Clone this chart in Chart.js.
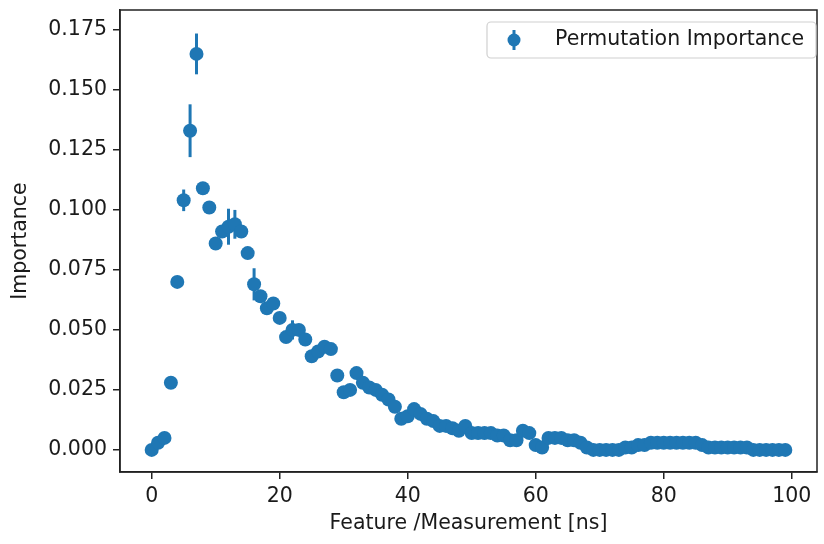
<!DOCTYPE html>
<html><head><meta charset="utf-8">
<script src="https://cdn.jsdelivr.net/npm/chart.js@4.4.1/dist/chart.umd.min.js"></script>
<style>html,body{margin:0;padding:0;background:#fff;}</style>
</head><body>
<canvas id="c" width="824" height="544"></canvas>
<script>
const features = [0,1,2,3,4,5,6,7,8,9,10,11,12,13,14,15,16,17,18,19,20,21,22,23,24,25,26,27,28,29,30,31,32,33,34,35,36,37,38,39,40,41,42,43,44,45,46,47,48,49,50,51,52,53,54,55,56,57,58,59,60,61,62,63,64,65,66,67,68,69,70,71,72,73,74,75,76,77,78,79,80,81,82,83,84,85,86,87,88,89,90,91,92,93,94,95,96,97,98,99];
const importance = [0.000,0.003,0.005,0.028,0.070,0.104,0.133,0.165,0.109,0.101,
  0.086,0.091,0.093,0.094,0.091,0.082,0.069,0.064,0.059,0.061,
  0.055,0.047,0.050,0.050,0.046,0.039,0.041,0.043,0.042,0.031,
  0.024,0.025,0.032,0.028,0.026,0.025,0.023,0.021,0.018,0.013,
  0.014,0.017,0.015,0.013,0.012,0.010,0.010,0.009,0.008,0.010,
  0.007,0.007,0.007,0.007,0.006,0.006,0.004,0.004,0.008,0.007,
  0.002,0.001,0.005,0.005,0.005,0.004,0.004,0.003,0.001,0.000,
  0.000,0.000,0.000,0.000,0.001,0.001,0.002,0.002,0.003,0.003,
  0.003,0.003,0.003,0.003,0.003,0.003,0.002,0.001,0.001,0.001,
  0.001,0.001,0.001,0.001,0.000,0.000,0.000,0.000,0.000,0.000];
const importanceErr = [0.0005,0.0008,0.001,0.001,0.002,0.0045,0.011,0.0085,0.002,0.001,
  0.001,0.002,0.0075,0.006,0.002,0.002,0.0067,0.002,0.002,0.002,
  0.001,0.002,0.004,0.001,0.001,0.001,0.001,0.001,0.001,0.001,
  0.001,0.001,0.001,0.001,0.001,0.001,0.001,0.001,0.001,0.001,
  0.001,0.001,0.001,0.001,0.001,0.001,0.001,0.001,0.001,0.001,
  0.001,0.001,0.001,0.001,0.001,0.001,0.001,0.001,0.001,0.001,
  0.001,0.001,0.001,0.001,0.001,0.001,0.001,0.001,0.001,0.001,
  0.0005,0.0005,0.0005,0.0005,0.0005,0.0005,0.0005,0.0005,0.0005,0.0005,
  0.0005,0.0005,0.0005,0.0005,0.0005,0.0005,0.0005,0.0005,0.0005,0.0005,
  0.0005,0.0005,0.0005,0.0005,0.0005,0.0005,0.0005,0.0005,0.0005,0.0005];
const xTicks = [0,20,40,60,80,100];
const yTicks = [0.000,0.025,0.050,0.075,0.100,0.125,0.150,0.175];
const seriesLabel = 'Permutation Importance';
const xTitle = 'Feature /Measurement [ns]';
const yTitle = 'Importance';

const BLUE = '#1f77b4';
const FONT = 'DejaVu Sans';
const TXT = '#1a1a1a';

const points = features.map((f,i)=>({x:f, y:importance[i]}));

const errPlugin = {
  id:'errbars',
  beforeDatasetsDraw(chart){
    const {ctx, scales:{x,y}} = chart;
    ctx.save();
    ctx.strokeStyle = BLUE; ctx.lineWidth = 3;
    features.forEach((f,i)=>{
      const px = x.getPixelForValue(f);
      ctx.beginPath();
      ctx.moveTo(px, y.getPixelForValue(importance[i]-importanceErr[i]));
      ctx.lineTo(px, y.getPixelForValue(importance[i]+importanceErr[i]));
      ctx.stroke();
    });
    ctx.restore();
  },
  afterDraw(chart){
    const {ctx, chartArea:a} = chart;
    ctx.save();
    ctx.strokeStyle = '#222'; ctx.lineWidth = 1.5;
    ctx.strokeRect(a.left, a.top, a.right-a.left, a.bottom-a.top);
    // legend
    const lx = 487, ly = 22, lw = 329, lh = 36;
    ctx.fillStyle = 'rgba(255,255,255,0.8)';
    ctx.strokeStyle = '#d0d0d0'; ctx.lineWidth = 1.2;
    ctx.beginPath();
    ctx.roundRect(lx, ly, lw, lh, 4);
    ctx.fill(); ctx.stroke();
    const mx = 514, my = 40;
    ctx.strokeStyle = BLUE; ctx.lineWidth = 3;
    ctx.beginPath(); ctx.moveTo(mx, my-10); ctx.lineTo(mx, my+10); ctx.stroke();
    ctx.fillStyle = BLUE;
    ctx.beginPath(); ctx.arc(mx, my, 6.5, 0, Math.PI*2); ctx.fill();
    ctx.fillStyle = TXT;
    ctx.font = '20.5px "' + FONT + '"';
    ctx.textBaseline = 'middle'; ctx.textAlign = 'left';
    ctx.fillText(seriesLabel, 555, my);
    ctx.restore();
  }
};

new Chart(document.getElementById('c'), {
  type:'scatter',
  data:{ datasets:[{ label:seriesLabel, data:points, backgroundColor:BLUE, borderColor:BLUE,
    pointRadius:7, pointHoverRadius:7, borderWidth:0 }]},
  options:{
    responsive:false, animation:false,
    layout:{ padding:{ top:10, right:6, left:0, bottom:0 } },
    plugins:{ legend:{display:false}, tooltip:{enabled:false} },
    scales:{
      x:{ type:'linear', min:-4.95, max:103.95,
        afterBuildTicks(s){ s.ticks = xTicks.map(v=>({value:v})); },
        afterFit(s){ s.height = 72; s.paddingLeft = 0; s.paddingRight = 0; },
        grid:{ drawOnChartArea:false, drawTicks:true, tickLength:7, color:'#222', lineWidth:1.5 },
        border:{ display:true, color:'#222', width:1.5 },
        ticks:{ padding:5, color:TXT, font:{family:FONT, size:20.5}, maxRotation:0,
          callback:(v)=>String(v) },
        title:{ display:true, text:xTitle, color:TXT, font:{family:FONT, size:20.5}, padding:{top:0,bottom:8} }
      },
      y:{ type:'linear', min:-0.0092, max:0.1833,
        afterBuildTicks(s){ s.ticks = yTicks.map(v=>({value:v})); },
        afterFit(s){ s.width = 120; s.paddingTop = 0; s.paddingBottom = 0; },
        grid:{ drawOnChartArea:false, drawTicks:true, tickLength:7, color:'#222', lineWidth:1.5 },
        border:{ display:true, color:'#222', width:1.5 },
        ticks:{ padding:6, color:TXT, font:{family:FONT, size:20.5},
          callback:(v)=>Number(v).toFixed(3) },
        title:{ display:true, text:yTitle, color:TXT, font:{family:FONT, size:20.5}, padding:{top:8,bottom:0} }
      }
    }
  },
  plugins:[errPlugin]
});
</script>
</body></html>
